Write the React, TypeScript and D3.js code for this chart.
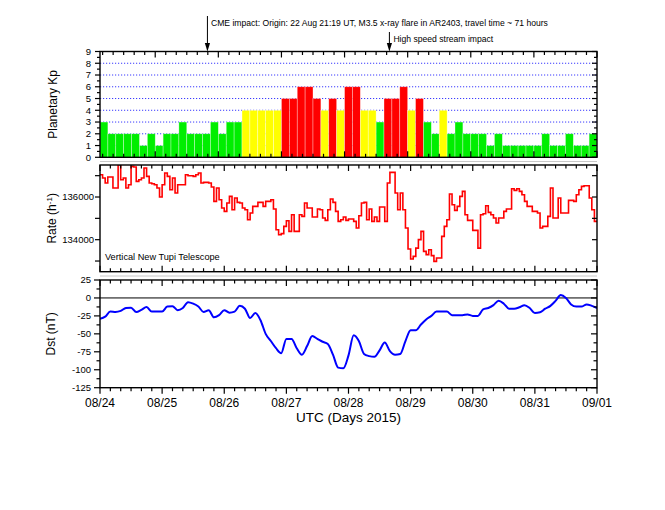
import React from 'react';
import * as d3 from 'd3';

// ---------- DATA ----------
// Planetary Kp, 3-hour values from 24 Aug 03:00 UT to 1 Sep 00:00 UT
const kpValues = [
  3, 2, 2, 2, 2, 1, 2, 1, 2, 2, 3, 2, 2, 2, 3, 2, 3, 3,
  4, 4, 4, 4, 4, 5, 5, 6, 6, 5, 4, 5, 4, 6, 6, 4, 4, 3,
  5, 5, 6, 4, 5, 3, 2, 4, 2, 3, 2, 2, 2, 1, 2, 1, 1, 1,
  1, 1, 2, 1, 1, 2, 1, 1, 2,
];
const kpStartHour = 3;

// Vertical New Tupi Telescope hourly rate (h^-1), from 24 Aug 00 UT
const rateValues = [
  137045, 136888, 136654, 136935, 136935, 136420, 136420, 137510, 136810, 136888,
  136420, 136576, 137435, 137404, 136732, 136810, 136888, 137357, 136967, 136654,
  136623, 136576, 136420, 135999, 136576, 137123, 136967, 136342, 136888, 136186,
  136576, 136576, 136576, 137045, 136998, 136998, 136967, 137045, 137123, 136654,
  136686, 136686, 136654, 136467, 135796, 136420, 135874, 135484, 135328, 135717,
  136030, 135406, 135952, 135749, 135717, 135484, 135406, 134937, 135249, 135562,
  135562, 135749, 135749, 135562, 135796, 135796, 135874, 135437, 134469, 134235,
  134282, 134625, 134890, 134391, 135171, 134391, 134391, 135171, 135093, 135717,
  135484, 135484, 135062, 135062, 135437, 135406, 135015, 134906, 135406, 135905,
  135749, 135328, 134859, 134937, 135062, 134906, 134968, 134968, 134859, 134547,
  135124, 135717, 135749, 134937, 135437, 134859, 135062, 134859, 135530, 135530,
  134859, 136654, 137154, 137154, 136186, 135406, 136186, 135406, 134547, 133564,
  133095, 133220, 133607, 134001, 134391, 133454, 133298, 133532, 133251, 132986,
  133142, 133142, 134157, 134625, 134937, 136139, 135640, 135374, 135562, 136030,
  136264, 135171, 134906, 134906, 134438, 134438, 133607, 135171, 135218, 135593,
  135281, 135171, 135015, 134781, 135015, 135015, 135328, 135437, 135437, 136389,
  136311, 136389, 136264, 136108, 135796, 135562, 135562, 135328, 135328, 135249,
  134547, 134625, 134625, 135093, 136420, 135015, 135015, 135952, 135249, 135249,
  135249, 135843, 135843, 135796, 136108, 136342, 136498, 136529, 136529, 135952,
  135406, 134859,
];

// Dst (nT), every 2 hours from 24 Aug 00 UT to 1 Sep 00 UT
const dstValues = [
  -29, -26, -19, -19.5, -18, -14, -13.5, -19.5, -16.5, -12.6,
  -19, -19, -19, -12, -11.5, -17, -14, -6, -8, -12,
  -19.5, -17, -27, -24, -17, -20.5, -19, -11, -15, -28,
  -21, -31, -50, -60, -70, -77, -57, -57, -70, -79,
  -67, -53, -57, -61, -64, -79, -97, -98, -80, -52,
  -60, -78, -81, -82, -73, -62, -74, -79, -78, -60,
  -45, -45, -37, -30, -25, -19, -19, -19, -24, -24,
  -24, -23, -25, -25, -16, -14, -10, -4, -8, -15,
  -15, -13, -10, -14, -21, -20, -15, -11, -4, 4,
  0, -9, -12, -12, -9, -11, -14,
];
const dstStepHours = 2;

const dayLabels = ['08/24', '08/25', '08/26', '08/27', '08/28', '08/29', '08/30', '08/31', '09/01'];
const kpTickValues = [0, 1, 2, 3, 4, 5, 6, 7, 8, 9];
const kpGridValues = [1, 2, 3, 4, 5, 6, 7, 8];
const rateTickValues = [134000, 136000];
const rateMinorValues = [133000, 135000, 137000];
const dstTickValues = [25, 0, -25, -50, -75, -100, -125];

const cmeHour = 41.5;
const hssHour = 111.8;
const cmeText = 'CME impact: Origin: 22 Aug 21:19 UT, M3.5 x-ray flare in AR2403, travel time ~ 71 hours';
const hssText = 'High speed stream impact';

// ---------- LAYOUT ----------
const W = 665, H = 510;
const L = 100, R = 597;
const KP = { top: 51.5, bottom: 157.3 };
const RT = { top: 165, bottom: 271.7 };
const DS = { top: 280, bottom: 387.7 };
const FONT = '"Liberation Sans", Arial, Helvetica, sans-serif';

const x = d3.scaleLinear().domain([0, 192]).range([L, R]);
const xKp = d3.scaleLinear().domain([kpStartHour, 192]).range([L, R]);
const yKp = d3.scaleLinear().domain([0, 9]).range([KP.bottom, KP.top]);
const yRate = d3.scaleLinear().domain([132500, 137500]).range([RT.bottom, RT.top]);
const yDst = d3.scaleLinear().domain([-125, 25]).range([DS.bottom, DS.top]);

function kpColor(v: number) {
  if (v >= 5) return '#ff0000';
  if (v >= 4) return '#ffff00';
  return '#00ee00';
}

function xTicks(scale: d3.ScaleLinear<number, number>, top: number, bottom: number, bottomOut: boolean, key: string) {
  const [d0, d1] = scale.domain();
  const out: React.ReactNode[] = [];
  for (let h = Math.ceil(d0 / 4) * 4; h <= d1; h += 4) {
    const major = h % 24 === 0;
    const len = major ? 6 : 3.5;
    const xx = scale(h);
    out.push(<line key={`${key}t${h}`} x1={xx} x2={xx} y1={top} y2={top + len} stroke="#000" strokeWidth={1.2} />);
    out.push(
      <line key={`${key}b${h}`} x1={xx} x2={xx} y1={bottom} y2={bottomOut ? bottom + len : bottom - len} stroke="#000" strokeWidth={1.2} />
    );
  }
  return out;
}

function yTicks(values: number[], scale: d3.ScaleLinear<number, number>, len: number, key: string) {
  const out: React.ReactNode[] = [];
  values.forEach((v) => {
    const yy = scale(v);
    out.push(<line key={`${key}l${v}`} x1={L - len} x2={L} y1={yy} y2={yy} stroke="#000" strokeWidth={1.2} />);
    out.push(<line key={`${key}r${v}`} x1={R} x2={R - len} y1={yy} y2={yy} stroke="#000" strokeWidth={1.2} />);
  });
  return out;
}

export default function App() {
  const kpMinor = d3.range(0.5, 9, 1);
  const dstMinor = d3.range(-112.5, 25, 25);

  const rateLine = d3
    .line<number>()
    .x((_, i) => x(i))
    .y((d) => yRate(d))
    .curve(d3.curveStepAfter)([...rateValues, rateValues[rateValues.length - 1]]);

  const dstLine = d3
    .line<number>()
    .x((_, i) => x(i * dstStepHours))
    .y((d) => yDst(d))
    .curve(d3.curveMonotoneX)(dstValues);

  return (
    <svg width={W} height={H} style={{ position: 'absolute', left: 0, top: 0, background: '#fff' }} fontFamily={FONT}>
      <defs>
        <clipPath id="clipRate"><rect x={L} y={RT.top} width={R - L} height={RT.bottom - RT.top} /></clipPath>
        <clipPath id="clipDst"><rect x={L} y={DS.top} width={R - L} height={DS.bottom - DS.top} /></clipPath>
        <clipPath id="clipKp"><rect x={L} y={KP.top} width={R - L} height={KP.bottom - KP.top} /></clipPath>
      </defs>

      {/* panel separators */}
      <line x1={L} x2={R} y1={161.5} y2={161.5} stroke="#c8c8c8" strokeWidth={1} />
      <line x1={L} x2={R} y1={276} y2={276} stroke="#c8c8c8" strokeWidth={1} />

      {/* ---------- Kp panel ---------- */}
      {kpGridValues.map((v) => (
        <line key={`g${v}`} x1={L} x2={R} y1={yKp(v)} y2={yKp(v)} stroke="#3a3aff" strokeWidth={1} strokeDasharray="1.2,1.8" />
      ))}
      <g clipPath="url(#clipKp)">
        {kpValues.map((v, i) => {
          const x0 = xKp(kpStartHour + i * 3);
          const x1 = xKp(kpStartHour + (i + 1) * 3);
          return (
            <rect key={`kp${i}`} x={x0} y={yKp(v)} width={x1 - x0} height={yKp(0) - yKp(v)}
              fill={kpColor(v)} stroke="rgba(255,255,255,0.55)" strokeWidth={0.6} />
          );
        })}
      </g>
      {yTicks(kpTickValues, yKp, 5, 'kpM')}
      {yTicks(kpMinor, yKp, 3, 'kpm')}
      {xTicks(xKp, KP.top, KP.bottom, false, 'kpx')}
      <rect x={L} y={KP.top} width={R - L} height={KP.bottom - KP.top} fill="none" stroke="#000" strokeWidth={1.4} />
      {kpTickValues.map((v) => (
        <text key={`kl${v}`} x={91} y={yKp(v)} dy="0.35em" textAnchor="end" fontSize={9.5}>{v}</text>
      ))}
      <text transform={`translate(53,${(KP.top + KP.bottom) / 2}) rotate(-90)`} textAnchor="middle" dy="0.35em" fontSize={12}>Planetary Kp</text>

      {/* ---------- Rate panel ---------- */}
      <g clipPath="url(#clipRate)">
        <path d={rateLine ?? ''} fill="none" stroke="#ff0000" strokeWidth={1.6} />
      </g>
      {yTicks(rateTickValues, yRate, 5, 'rtM')}
      {yTicks(rateMinorValues, yRate, 5, 'rtm')}
      {xTicks(x, RT.top, RT.bottom, false, 'rtx')}
      <rect x={L} y={RT.top} width={R - L} height={RT.bottom - RT.top} fill="none" stroke="#000" strokeWidth={1.4} />
      {rateTickValues.map((v) => (
        <text key={`rl${v}`} x={94} y={yRate(v)} dy="0.35em" textAnchor="end" fontSize={9.5}>{v}</text>
      ))}
      <text transform={`translate(52,${(RT.top + RT.bottom) / 2}) rotate(-90)`} textAnchor="middle" dy="0.35em" fontSize={12}>
        Rate (h<tspan baselineShift="super" fontSize={8}>-1</tspan>)
      </text>
      <text x={105} y={260} fontSize={9.2}>Vertical New Tupi Telescope</text>

      {/* ---------- Dst panel ---------- */}
      <line x1={L} x2={R} y1={yDst(0)} y2={yDst(0)} stroke="#000" strokeWidth={1} />
      <g clipPath="url(#clipDst)">
        <path d={dstLine ?? ''} fill="none" stroke="#0000ff" strokeWidth={2} />
      </g>
      {yTicks(dstTickValues, yDst, 6, 'dsM')}
      {yTicks(dstMinor, yDst, 3.5, 'dsm')}
      {xTicks(x, DS.top, DS.bottom, true, 'dsx')}
      <rect x={L} y={DS.top} width={R - L} height={DS.bottom - DS.top} fill="none" stroke="#000" strokeWidth={1.4} />
      {dstTickValues.map((v) => (
        <text key={`dl${v}`} x={91} y={yDst(v)} dy="0.35em" textAnchor="end" fontSize={9.5}>{v}</text>
      ))}
      <text transform={`translate(51,${(DS.top + DS.bottom) / 2}) rotate(-90)`} textAnchor="middle" dy="0.35em" fontSize={12}>Dst (nT)</text>

      {dayLabels.map((lab, i) => (
        <text key={`xl${i}`} x={x(i * 24)} y={407} textAnchor="middle" fontSize={12}>{lab}</text>
      ))}
      <text x={(L + R) / 2} y={422} textAnchor="middle" fontSize={13.5}>UTC (Days 2015)</text>

      {/* ---------- annotations ---------- */}
      <line x1={x(cmeHour)} x2={x(cmeHour)} y1={16} y2={44} stroke="#000" strokeWidth={1} />
      <path d={`M${x(cmeHour) - 2.6},${43} L${x(cmeHour) + 2.6},${43} L${x(cmeHour)},${KP.top} Z`} fill="#000" />
      <text x={x(cmeHour) + 3.5} y={26} fontSize={8.6}>{cmeText}</text>

      <line x1={x(hssHour)} x2={x(hssHour)} y1={32} y2={44} stroke="#000" strokeWidth={1} />
      <path d={`M${x(hssHour) - 2.6},${43} L${x(hssHour) + 2.6},${43} L${x(hssHour)},${KP.top} Z`} fill="#000" />
      <text x={x(hssHour) + 4} y={42} fontSize={8.6}>{hssText}</text>
    </svg>
  );
}
